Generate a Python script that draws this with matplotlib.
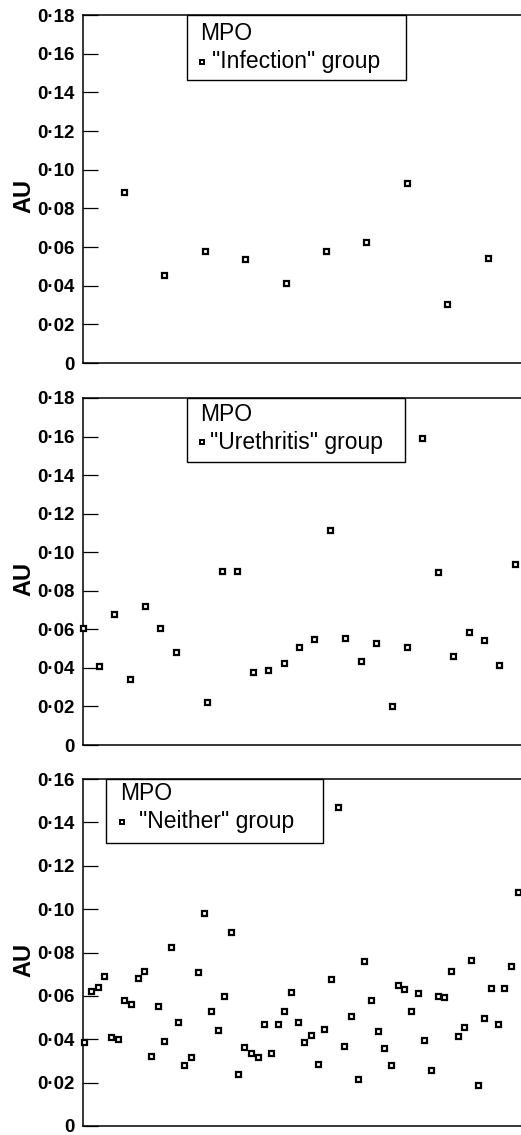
import matplotlib
matplotlib.use("Agg")
import matplotlib.pyplot as plt
from matplotlib.patches import Rectangle

plt.rcParams['font.family'] = ['Liberation Sans', 'DejaVu Sans']

# ---- data ----
infection_x = [1, 2, 3, 4, 5, 6, 7, 8, 9, 10]
infection_y = [0.0885, 0.0454, 0.0578, 0.0536, 0.0412, 0.0581, 0.0624, 0.0931, 0.0304, 0.0545]

urethritis_x = [0, 1, 2, 3, 4, 5, 6, 8, 9, 10, 11, 12, 13, 14, 15, 16, 17, 18, 19, 20,
                21, 22, 23, 24, 25, 26, 27, 28]
urethritis_y = [0.0605, 0.0411, 0.0679, 0.0341, 0.0721, 0.0605, 0.0482, 0.0223, 0.0902, 0.0902,
                0.0377, 0.0389, 0.0424, 0.0510, 0.0551, 0.1117, 0.0555, 0.0437, 0.0531, 0.0204,
                0.0508, 0.1592, 0.0896, 0.0460, 0.0586, 0.0543, 0.0417, 0.0939]

neither_y = [0.0389, 0.0624, 0.0642, 0.0693, 0.0410, 0.0400, 0.0581, 0.0564, 0.0681, 0.0713,
             0.0323, 0.0552, 0.0392, 0.0824, 0.0481, 0.0281, 0.0320, 0.0710, 0.0982, 0.0532,
             0.0444, 0.0599, 0.0893, 0.0238, 0.0363, 0.0335, 0.0320, 0.0469, 0.0335, 0.0469,
             0.0532, 0.0619, 0.0479, 0.0386, 0.0418, 0.0284, 0.0449, 0.0678, 0.1471, 0.0367,
             0.0509, 0.0215, 0.0761, 0.0579, 0.0436, 0.0358, 0.0280, 0.0649, 0.0633, 0.0530,
             0.0613, 0.0396, 0.0257, 0.0598, 0.0595, 0.0716, 0.0416, 0.0455, 0.0765, 0.0188,
             0.0499, 0.0636, 0.0469, 0.0636, 0.0736, 0.1079]
neither_x = list(range(len(neither_y)))

ticks_018 = [0, 0.02, 0.04, 0.06, 0.08, 0.10, 0.12, 0.14, 0.16, 0.18]
ticks_016 = [0, 0.02, 0.04, 0.06, 0.08, 0.10, 0.12, 0.14, 0.16]
group_labels = ['"Infection" group', '"Urethritis" group', '"Neither" group']
legend_title = 'MPO'
ylabel = 'AU'


def fmt(v):
    return '0' if v == 0 else f'{v:.2f}'.replace('.', '\u00b7')


W, H = 521, 1135
fig = plt.figure(figsize=(W / 100, H / 100), dpi=100)

panels = [
    dict(top=15, bottom=363, x=infection_x, y=infection_y, ticks=ticks_018, xlim=(0, 10.82),
         box=(186.7, 405.7, 80), title_xy=(200, 33.3), mark_xy=(202.3, 61.7), text_x=212),
    dict(top=398, bottom=745, x=urethritis_x, y=urethritis_y, ticks=ticks_018, xlim=(0, 28.4),
         box=(186.7, 405, 461.7), title_xy=(200, 414.5), mark_xy=(202, 442.3), text_x=210.5),
    dict(top=779, bottom=1126, x=neither_x, y=neither_y, ticks=ticks_016, xlim=(-0.15, 65.5),
         box=(106, 323.3, 842.7), title_xy=(120.5, 793), mark_xy=(122.3, 821.7), text_x=139),
]

left_px = 83.3
aw = W - left_px
for i, p in enumerate(panels):
    h = p['bottom'] - p['top']
    ax = fig.add_axes([left_px / W, 1 - p['bottom'] / H, aw / W, h / H])
    ax.plot(p['x'], p['y'], linestyle='none', marker='s', markersize=3.6,
            markerfacecolor='white', markeredgecolor='black', markeredgewidth=1.6,
            clip_on=False, zorder=3)
    ax.set_xlim(*p['xlim'])
    ax.set_ylim(0, p['ticks'][-1])
    ax.set_yticks(p['ticks'])
    ax.set_yticklabels([fmt(t) for t in p['ticks']], fontsize=13.5, fontweight='bold')
    ax.set_xticks([])
    ax.tick_params(axis='y', direction='in', length=11, width=0.9, pad=6.5)
    ax.spines['right'].set_visible(False)
    for s in ['left', 'bottom', 'top']:
        ax.spines[s].set_linewidth(1.1)
    ax.set_ylabel(ylabel, fontsize=17, fontweight='bold')
    ax.yaxis.set_label_coords((35 - left_px) / aw, 0.48)

    def fx(px):
        return (px - left_px) / aw

    def fy(py, p=p, h=h):
        return (p['bottom'] - py) / h

    bl, br, bb = p['box']
    ax.add_patch(Rectangle((fx(bl), fy(bb)), fx(br) - fx(bl), 1 - fy(bb),
                           transform=ax.transAxes, facecolor='white', edgecolor='black',
                           linewidth=1.0, clip_on=False, zorder=4))
    ax.text(fx(p['title_xy'][0]), fy(p['title_xy'][1]), legend_title, transform=ax.transAxes,
            fontsize=16.5, ha='left', va='center', zorder=5)
    ax.plot([fx(p['mark_xy'][0])], [fy(p['mark_xy'][1])], transform=ax.transAxes,
            linestyle='none', marker='s', markersize=3.4, markerfacecolor='white',
            markeredgecolor='black', markeredgewidth=1.4, clip_on=False, zorder=5)
    ax.text(fx(p['text_x']), fy(p['mark_xy'][1]), group_labels[i], transform=ax.transAxes,
            fontsize=16.5, ha='left', va='center', zorder=5)

fig.savefig('out.png', dpi=100)
